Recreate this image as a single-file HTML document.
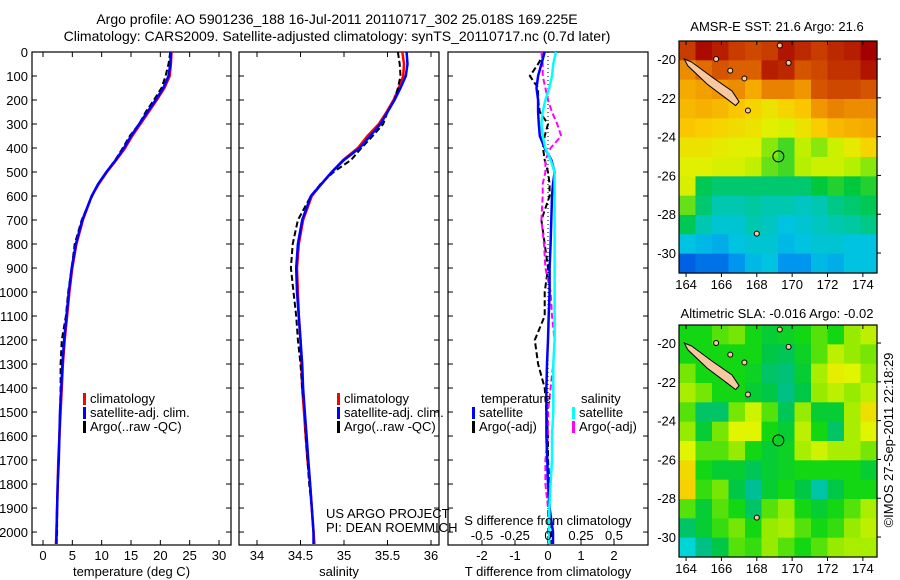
<!DOCTYPE html>
<html><head><meta charset="utf-8"><title>Argo profile</title>
<style>
html,body{margin:0;padding:0;background:#fff;}
svg{display:block;font-family:"Liberation Sans",sans-serif;}
text{font-size:13px;fill:#000;}
text.ttl{font-size:14px;}
</style></head>
<body>
<svg id="fig" width="900" height="580" viewBox="0 0 900 580" xmlns="http://www.w3.org/2000/svg">
<text class="ttl" x="337" y="24" text-anchor="middle">Argo profile: AO 5901236_188 16-Jul-2011 20110717_302 25.018S 169.225E</text>
<text class="ttl" x="337" y="41" text-anchor="middle">Climatology: CARS2009. Satellite-adjusted climatology: synTS_20110717.nc (0.7d later)</text>
<text x="777" y="31" text-anchor="middle">AMSR-E SST: 21.6 Argo: 21.6</text>
<text x="777" y="318" text-anchor="middle">Altimetric SLA: -0.016 Argo: -0.02</text>
<text transform="translate(893,440) rotate(-90)" text-anchor="middle">©IMOS 27-Sep-2011 22:18:29</text>
<g id="g1"></g><g id="g2"></g><g id="g3"></g><g id="g4"></g><g id="g5"></g>
</svg>
<script>
// ---- profile data ----
const depths = [0,50,100,150,200,250,300,350,400,450,500,550,600,700,800,900,1000,1100,1200,1300,1400,1500,1600,1700,1800,1900,2000,2050];
const tempSat = [21.8,21.7,21.4,20.5,19.2,17.8,16.4,15.0,13.8,12.4,10.8,9.4,8.3,6.7,5.6,4.9,4.4,4.0,3.6,3.3,3.1,2.9,2.8,2.7,2.5,2.4,2.3,2.3];
const tempClim = [21.9,21.8,21.6,20.7,19.4,18.0,16.6,15.2,14.0,12.5,10.9,9.5,8.3,6.8,5.7,5.0,4.5,4.1,3.7,3.4,3.2,3.0,2.8,2.6,2.5,2.4,2.3,2.2];
const tempArgo = [21.7,21.4,20.9,20.2,18.9,17.5,16.4,14.8,13.6,12.3,10.8,9.4,8.4,6.6,5.4,4.9,4.3,3.9,3.2,3.0,3.0,2.9,2.8,2.7,2.5,2.4,2.4,2.3];
const salSat = [35.72,35.73,35.71,35.65,35.58,35.5,35.42,35.3,35.18,35.0,34.86,34.74,34.62,34.52,34.47,34.45,34.46,34.48,34.5,34.52,34.53,34.55,34.57,34.59,34.61,34.63,34.65,34.65];
const salClim = [35.67,35.69,35.68,35.63,35.57,35.49,35.4,35.27,35.16,34.99,34.86,34.74,34.63,34.53,34.48,34.46,34.47,34.48,34.5,34.51,34.52,34.54,34.56,34.58,34.61,34.63,34.65,34.66];
const salArgo = [35.62,35.64,35.65,35.62,35.58,35.5,35.45,35.33,35.2,35.08,34.88,34.73,34.62,34.47,34.41,34.39,34.42,34.45,34.47,34.5,34.52,34.55,34.56,34.58,34.6,34.63,34.65,34.65];
const dTsat = [-0.1,-0.2,-0.3,-0.35,-0.3,-0.3,-0.28,-0.25,-0.1,0.1,0.2,0.15,0.12,0.1,0.08,0.05,0.05,0.02,0,-0.03,-0.05,-0.05,-0.05,-0.02,0,0.05,0.15,0.15];
const dTargo = [-0.1,-0.3,-0.55,-0.3,-0.3,-0.25,0,-0.1,-0.15,-0.1,0,0.05,0.05,-0.2,-0.1,0,-0.1,-0.1,-0.4,-0.3,-0.1,-0.05,0,0,0.05,0.05,0.1,0.1];
const dSsat = [0.06,0.04,0.03,0.01,-0.02,-0.04,-0.05,-0.04,-0.02,0.02,0.05,0.05,0.05,0.05,0.05,0.05,0.05,0.05,0.05,0.04,0.04,0.04,0.03,0.03,0.02,0.01,0.01,0.01];
const dSargo = [-0.05,-0.04,-0.04,-0.02,0.0,0.03,0.07,0.1,0.02,-0.02,-0.02,-0.04,-0.04,-0.05,-0.03,-0.02,0.02,0.03,0.05,0.04,0.02,0.0,0.0,-0.02,-0.02,0.0,0.0,0.0];
const depthTicks = [0,100,200,300,400,500,600,700,800,900,1000,1100,1200,1300,1400,1500,1600,1700,1800,1900,2000];
const tempTicks = [0,5,10,15,20,25,30];
const salTicks = [34,34.5,35,35.5,36];
const salTickLabels = ["34","34.5","35","35.5","36"];
const dTTicks = [-2,-1,0,1,2];
const dSTicks = [-0.5,-0.25,0,0.25,0.5];
const dSTickLabels = ["-0.5","-0.25","0","0.25","0.5"];
// ---- map data (rows north->south, cols west->east) ----
const sstGrid = [
[24.0,24.5,24.3,24.0,23.9,24.0,24.4,24.2,24.0,24.2,24.3,24.8],
[23.3,23.6,23.8,23.7,23.7,24.3,24.2,23.8,23.9,24.1,24.1,24.4],
[23.0,23.1,23.2,23.3,23.0,23.4,23.4,23.2,23.8,23.9,23.9,23.8],
[22.8,22.9,22.8,22.6,22.4,22.2,22.4,22.6,23.2,23.4,23.3,23.3],
[22.6,22.5,22.4,22.3,22.2,22.0,21.9,22.2,22.5,22.8,22.9,23.0],
[22.2,22.2,22.1,22.0,22.0,21.4,21.2,21.7,21.4,21.8,22.1,22.4],
[22.0,22.0,21.9,21.9,21.7,21.3,21.2,21.6,21.8,21.8,21.6,21.4],
[21.9,20.9,20.8,20.8,20.8,20.8,20.8,20.8,21.0,21.1,21.0,21.1],
[21.3,20.8,20.5,20.5,20.6,20.5,20.5,20.4,20.5,20.7,20.8,20.9],
[20.9,20.5,20.3,20.3,20.5,20.4,20.2,20.3,20.4,20.5,20.6,20.7],
[20.2,20.1,20.0,20.2,20.3,20.3,20.1,20.2,20.3,20.3,20.2,20.2],
[19.5,19.6,19.6,19.8,20.1,20.2,19.8,19.8,20.1,20.0,20.2,20.2]];
const slaGrid = [
[0,0,0.02,0.03,0,-0.02,-0.01,0,0.02,0,0.04,0.06],
[0,0,0,0,0,-0.03,-0.04,-0.01,0.02,0.06,0.04,0.03],
[0.03,0,0,0,-0.01,-0.05,-0.06,-0.02,0.05,0.09,0.08,0.04],
[0.05,0.03,0,0,-0.02,-0.03,-0.07,-0.03,0.04,0.06,0.04,0.06],
[0.02,-0.05,-0.05,0.03,0.07,0.02,-0.04,0.04,-0.02,-0.02,0.05,0.11],
[0.04,-0.02,0.03,0.08,0.08,0,-0.02,0.06,0,-0.05,0.05,0.08],
[0.08,0.02,0.02,0.04,0,-0.02,-0.01,0.05,0.07,0.05,0.05,0.03],
[0.12,0,-0.02,-0.02,-0.04,-0.02,-0.01,0,0,0,0,-0.02],
[0.13,0.01,0.03,-0.03,-0.08,-0.02,0,-0.03,-0.09,-0.03,0,0],
[0.02,-0.02,0.02,0,-0.05,0.02,0.04,0,-0.02,0,0.02,0.05],
[-0.05,-0.02,0.01,0.03,0,0.04,0.05,0.02,0,0.01,0.04,0.06],
[-0.12,-0.07,-0.03,0.02,0.01,0.04,0.02,0,0.02,0.04,0.05,0.05]];
const lonTicks = [164,166,168,170,172,174];
const latTicks = [-20,-22,-24,-26,-28,-30];
const islandLon = [163.9,164.3,165.5,166.6,167.0,166.8,166.3,165.2,164.1];
const islandLat = [-20.0,-20.15,-20.95,-21.65,-22.2,-22.4,-22.05,-21.3,-20.35];
const isleLon = [165.7,166.5,167.3,167.5,169.8,169.3,168.0];
const isleLat = [-20.0,-20.6,-21.0,-22.65,-20.2,-19.3,-29.0];
const argoLon = 169.22, argoLat = -25.02;

const NS = "http://www.w3.org/2000/svg";
function mk(parent, tag, attrs){ const e=document.createElementNS(NS,tag); for(const k in attrs) e.setAttribute(k,attrs[k]); parent.appendChild(e); return e; }
function txt(parent,x,y,s,anchor){ const t=mk(parent,"text",{x:x,y:y,"text-anchor":anchor||"middle"}); t.textContent=s; return t; }

const top0=52, bot0=545, dMax=2054;
const yD = d => top0 + d*(bot0-top0)/dMax;

function panel(gid, left, right, xfn, ticks, labels, title, name, leftLabels, topTicks){
  const g=document.getElementById(gid);
  const r=mk(g,"rect",{x:left,y:top0,width:right-left,height:bot0-top0,fill:"none",stroke:"#000","stroke-width":1.2});
  
  
  ticks.forEach((v,i)=>{ const x=xfn(v);
    mk(g,"line",{x1:x,x2:x,y1:bot0,y2:bot0-5,stroke:"#000"});
    if(topTicks) mk(g,"line",{x1:x,x2:x,y1:top0,y2:top0+5,stroke:"#000"});
    const t=txt(g,x,560,labels[i]);
    
    
  });
  depthTicks.forEach(d=>{ const y=yD(d);
    mk(g,"line",{x1:left,x2:left+5,y1:y,y2:y,stroke:"#000"});
    mk(g,"line",{x1:right,x2:right-5,y1:y,y2:y,stroke:"#000"});
    if(leftLabels){ const t=txt(g,28,y+5,String(d),"end");
      
       }
  });
  const tt=txt(g,(left+right)/2,576,title);
  
  
  return g;
}
function line(g, xs, xfn, color, dash, w, name){
  const pts=xs.map((v,i)=>xfn(v).toFixed(1)+","+yD(depths[i]).toFixed(1)).join(" ");
  const p=mk(g,"polyline",{points:pts,fill:"none",stroke:color,"stroke-width":w||2.5,"stroke-dasharray":dash||"none"});
  
  
}
function legend(g,x,y,color,label,name){
  mk(g,"rect",{x:x,y:y-10,width:3,height:12,fill:color});
  const t=txt(g,x+7,y,label,"start");
  
  
}

// Panel 1 temperature
const xT = v => 43 + v*(219-43)/30;
const g1=panel("g1",32,231,xT,tempTicks,tempTicks.map(String),"temperature (deg C)","temperature-panel",true,true);
line(g1,tempClim,xT,"#f00",null,2.5,"temperature-climatology-line");
line(g1,tempArgo,xT,"#000","6,3",2,"temperature-argo-line");
line(g1,tempSat,xT,"#00f",null,2.5,"temperature-satellite-line");
legend(g1,83,403,"#f00","climatology","legend-climatology");
legend(g1,83,417,"#00f","satellite-adj. clim.","legend-satellite");
legend(g1,83,431,"#000","Argo(..raw -QC)","legend-argo");

// Panel 2 salinity
const xS = v => 257 + (v-34)*(431-257)/2;
const g2=panel("g2",239,439,xS,salTicks,salTickLabels,"salinity","salinity-panel",false,true);
line(g2,salClim,xS,"#f00",null,2.5,"salinity-climatology-line");
line(g2,salArgo,xS,"#000","6,3",2,"salinity-argo-line");
line(g2,salSat,xS,"#00f",null,2.5,"salinity-satellite-line");
legend(g2,337,403,"#f00","climatology","legend-climatology-2");
legend(g2,337,417,"#00f","satellite-adj. clim.","legend-satellite-2");
legend(g2,337,431,"#000","Argo(..raw -QC)","legend-argo-2");
let t1=txt(g2,326,518,"US ARGO PROJECT","start");


let t2=txt(g2,326,532,"PI: DEAN ROEMMICH","start");



// Panel 3 differences
const xDT = v => 548 + v*33;
const xDS = v => 548 + v*132;
const g3=panel("g3",448,648,xDT,dTTicks,dTTicks.map(String),"T difference from climatology","difference-panel",false,false);
mk(g3,"line",{x1:xDT(0),x2:xDT(0),y1:top0,y2:bot0,stroke:"#000","stroke-dasharray":"1,3"});
line(g3,dTargo,xDT,"#000","6,3",2,"t-diff-argo-line");
line(g3,dSargo,xDS,"#f0f","6,3",2,"s-diff-argo-line");
line(g3,dTsat,xDT,"#00f",null,2.5,"t-diff-satellite-line");
line(g3,dSsat,xDS,"#0ff",null,2.5,"s-diff-satellite-line");
let t3=txt(g3,481,403,"temperature","start");


let t4=txt(g3,581,403,"salinity","start");


legend(g3,472,417,"#00f","satellite","legend-t-satellite");
legend(g3,472,431,"#000","Argo(-adj)","legend-t-argo");
legend(g3,572,417,"#0ff","satellite","legend-s-satellite");
legend(g3,572,431,"#f0f","Argo(-adj)","legend-s-argo");
let t5=txt(g3,548,525,"S difference from climatology");


dSTicks.forEach((v,i)=>{ const t=txt(g3,xDS(v),540,dSTickLabels[i]);
  
   });

// ---- maps ----
const lonMin=163.6, lonMax=174.8, mapL=679, mapR=877;
const xLon = v => mapL + (v-lonMin)*(mapR-mapL)/(lonMax-lonMin);
function lerpColor(stops, v){
  if(v<=stops[0][0]) return "rgb("+stops[0][1].join(",")+")";
  for(let i=1;i<stops.length;i++){ if(v<=stops[i][0]){ const a=stops[i-1],b=stops[i],f=(v-a[0])/(b[0]-a[0]);
    return "rgb("+[0,1,2].map(k=>Math.round(a[1][k]+(b[1][k]-a[1][k])*f)).join(",")+")"; } }
  return "rgb("+stops[stops.length-1][1].join(",")+")";
}
const sstStops=[[19.3,[0,60,220]],[19.8,[0,150,240]],[20.2,[0,195,225]],[20.6,[0,200,160]],[21.0,[0,200,60]],[21.5,[170,240,0]],[22.0,[225,240,0]],[22.5,[250,205,0]],[23.0,[245,170,0]],[23.5,[230,120,0]],[24.0,[200,60,0]],[24.6,[165,0,0]]];
const slaStops=[[-0.13,[0,220,230]],[-0.08,[0,190,150]],[-0.03,[0,200,70]],[0.0,[20,215,20]],[0.04,[150,235,0]],[0.08,[225,245,0]],[0.13,[245,210,0]]];
function mapPanel(gid, top, bot, grid, stops, name){
  const g=document.getElementById(gid);
  const latTop=-19.07, latBot=-31.03;
  const yLat = v => top + (latTop-v)*(bot-top)/(latTop-latBot);
  const rows=grid.length, cols=grid[0].length;
  const cw=(mapR-mapL)/cols, ch=(bot-top)/rows;
  grid.forEach((row,r)=>row.forEach((v,c)=>{
    const cell=mk(g,"rect",{x:(mapL+c*cw).toFixed(2),y:(top+r*ch).toFixed(2),width:(cw+0.6).toFixed(2),height:(ch+0.6).toFixed(2),fill:lerpColor(stops,v)});
    
    
  }));
  const pts=islandLon.map((v,i)=>xLon(v).toFixed(1)+","+yLat(islandLat[i]).toFixed(1)).join(" ");
  const isl=mk(g,"polygon",{points:pts,fill:"#f8c8a0",stroke:"#000","stroke-width":1});
  
  
  isleLon.forEach((v,i)=>{ const c=mk(g,"circle",{cx:xLon(v),cy:yLat(isleLat[i]),r:2.5,fill:"#f8c8a0",stroke:"#000","stroke-width":1});
    
     });
  const a=mk(g,"circle",{cx:xLon(argoLon),cy:yLat(argoLat),r:5.5,fill:"none",stroke:"#000","stroke-width":1});
  
  
  const fr=mk(g,"rect",{x:mapL,y:top,width:mapR-mapL,height:bot-top,fill:"none",stroke:"#000","stroke-width":1.2});
  
  
  lonTicks.forEach(v=>{ const x=xLon(v);
    mk(g,"line",{x1:x,x2:x,y1:top,y2:top+4,stroke:"#000"});
    mk(g,"line",{x1:x,x2:x,y1:bot,y2:bot+4,stroke:"#000"});
    const t=txt(g,x,bot+16,String(v));
    
     });
  latTicks.forEach(v=>{ const y=yLat(v);
    mk(g,"line",{x1:mapR,x2:mapR+4,y1:y,y2:y,stroke:"#000"});
    const t=txt(g,676,y+5,String(v),"end");
    
     });
}
mapPanel("g4",41,273,sstGrid,sstStops,"sst-map");
mapPanel("g5",325,557,slaGrid,slaStops,"sla-map");
</script>
</body></html>
